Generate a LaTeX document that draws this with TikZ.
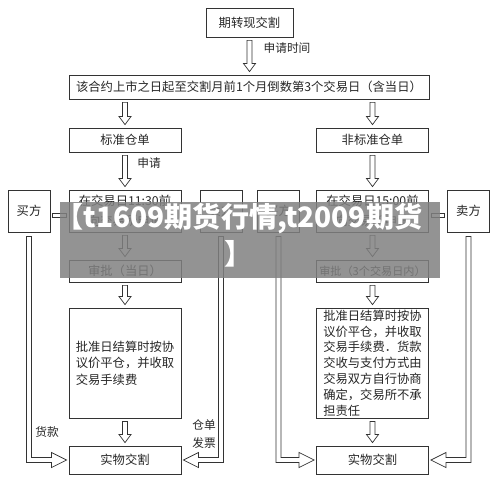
\documentclass[tikz,border=0pt]{standalone}
\usepackage{fontspec}
\setmainfont{Noto Sans CJK SC}
\usetikzlibrary{calc,positioning}

\begin{document}
\begin{tikzpicture}[
    x=0.03cm, y=-0.03cm,
    box/.style={rectangle, draw=black!80, line width=0.8pt, text=black!85, align=center, inner sep=0pt, font=\fontsize{10.5}{14}\selectfont},
    lane/.style={box, minimum width=3.36cm},
    side/.style={box, minimum width=1.26cm, minimum height=1.26cm},
    note/.style={text=black!85, align=left, inner sep=0pt, font=\fontsize{10}{15}\selectfont},
    hollow/.style={draw=black!80, line width=0.6pt, to path={let \p1=(\tikztostart), \p2=(\tikztotarget) in
        ({\x1-2.1pt},{\y1-2.5pt}) -- ({\x1-2.1pt},{\y2+9.5pt}) -- ({\x1-5.2pt},{\y2+9.5pt}) -- ({\x1},{\y2+2.5pt})
        -- ({\x1+5.2pt},{\y2+9.5pt}) -- ({\x1+2.1pt},{\y2+9.5pt}) -- ({\x1+2.1pt},{\y1-2.5pt}) -- cycle}},
    hollowL/.style={draw=black!80, line width=0.6pt, to path={let \p1=(\tikztostart), \p2=(\tikztotarget) in
        ({\x1-(#1)*2.1pt},{\y1-3.4pt}) -- ({\x1-(#1)*2.1pt},{\y2-2.1pt}) -- ({\x2-(#1)*14.5pt},{\y2-2.1pt})
        -- ({\x2-(#1)*14.5pt},{\y2-6.4pt}) -- ({\x2-(#1)*1.7pt},{\y2}) -- ({\x2-(#1)*14.5pt},{\y2+6.4pt})
        -- ({\x2-(#1)*14.5pt},{\y2+2.1pt}) -- ({\x1+(#1)*2.1pt},{\y2+2.1pt}) -- ({\x1+(#1)*2.1pt},{\y1-3.4pt}) -- cycle}},
    stub/.style={draw=black!80, line width=0.6pt, to path={let \p1=(\tikztostart), \p2=(\tikztotarget) in
        ({\x1+2pt},{\y1-5pt}) rectangle ({\x2-2pt},{\y2-1.6pt})}},
    banner/.style={rectangle, fill={rgb,255:red,128;green,128;blue,128}, fill opacity=0.85,
        minimum width=11.4cm, minimum height=2.28cm, inner sep=0pt},
    bannertext/.style={text=white, inner sep=0pt, align=center, font=\bfseries\fontsize{24}{32}\selectfont}
]
\useasboundingbox (0,0) rectangle (500,481);

% Top
\node[box, minimum width=2.61cm, minimum height=0.87cm] (top) at (249.5,22.5) {期转现交割};
\node[box, minimum width=10.8cm, minimum height=0.72cm] (span) at (249,87) {该合约上市之日起至交割月前1个月倒数第3个交易日（含当日）};

% Two lanes
\node[lane, minimum height=0.72cm] (stdL) at (125,140) {标准仓单};
\node[lane, minimum height=0.72cm] (stdR) at (372.5,140) {非标准仓单};
\node[lane, minimum height=1.26cm] (applyL) at (125,211) {在交易日11:30前\\[3pt]向交易所申请};
\node[lane, minimum height=1.26cm] (applyR) at (372.5,211) {在交易日15:00前\\[3pt]向交易所申请};
\node[lane, minimum height=0.66cm] (checkL) at (125,271) {审批（当日）};
\node[lane, minimum height=0.66cm, font=\fontsize{9.5}{12}\selectfont] (checkR) at (372.5,271) {审批（3个交易日内）};
\node[lane, minimum height=3.3cm, align=left] (closeL) at (125,363) {批准日结算时按协\\议价平仓，并收取\\交易手续费};
\node[lane, minimum height=3.3cm, align=left, font=\fontsize{10.5}{13.5}\selectfont] (closeR) at (372.5,363)
    {批准日结算时按协\\议价平仓，并收取\\交易手续费．货款\\交收与支付方式由\\交易双方自行协商\\确定，交易所不承\\担责任};
\node[lane, minimum height=0.84cm] (dlvL) at (125,460) {实物交割};
\node[lane, minimum height=0.84cm] (dlvR) at (372.5,460) {实物交割};

% Buyers and sellers
\node[side] (buyL) at (29,211) {买方};
\node[side] (sellL) at (221,211) {卖方};
\node[side] (buyR) at (278.5,211) {买方};
\node[side] (sellR) at (468.5,211) {卖方};

% Arrows
\draw[hollow] (top.south) to (span.north);
\draw[hollow] (span.south -| stdL) to (stdL.north);
\draw[hollow] (span.south -| stdR) to (stdR.north);
\draw[hollow] (stdL.south) to (applyL.north);
\draw[hollow] (stdR.south) to (applyR.north);
\draw[hollow] (applyL.south) to (checkL.north);
\draw[hollow] (applyR.south) to (checkR.north);
\draw[hollow] (checkL.south) to (closeL.north);
\draw[hollow] (checkR.south) to (closeR.north);
\draw[hollow] (closeL.south) to (dlvL.north);
\draw[hollow] (closeR.south) to (dlvR.north);

\draw[hollowL=1] (buyL.south) to (dlvL.west);
\draw[hollowL=-1] (sellL.south) to (dlvL.east);
\draw[hollowL=1] (buyR.south) to (dlvR.west);
\draw[hollowL=-1] (sellR.south) to (dlvR.east);

\draw[stub] (buyL.east) to (applyL.west);
\draw[stub] (applyR.east) to (sellR.west);

% Labels
\node[note] (askTime) at (287,48) {申请时间};
\node[note] (ask) at (149,163) {申请};
\node[note] (pay) at (47,432) {货款};
\node[note] (receipt) at (204,434) {仓单\\发票};

% Banner
\node[banner] (ad) at (250,240) {};
\node[bannertext] (adText) at (239,235) {【t1609期货行情,t2009期货\\】};

\end{tikzpicture}
\end{document}
